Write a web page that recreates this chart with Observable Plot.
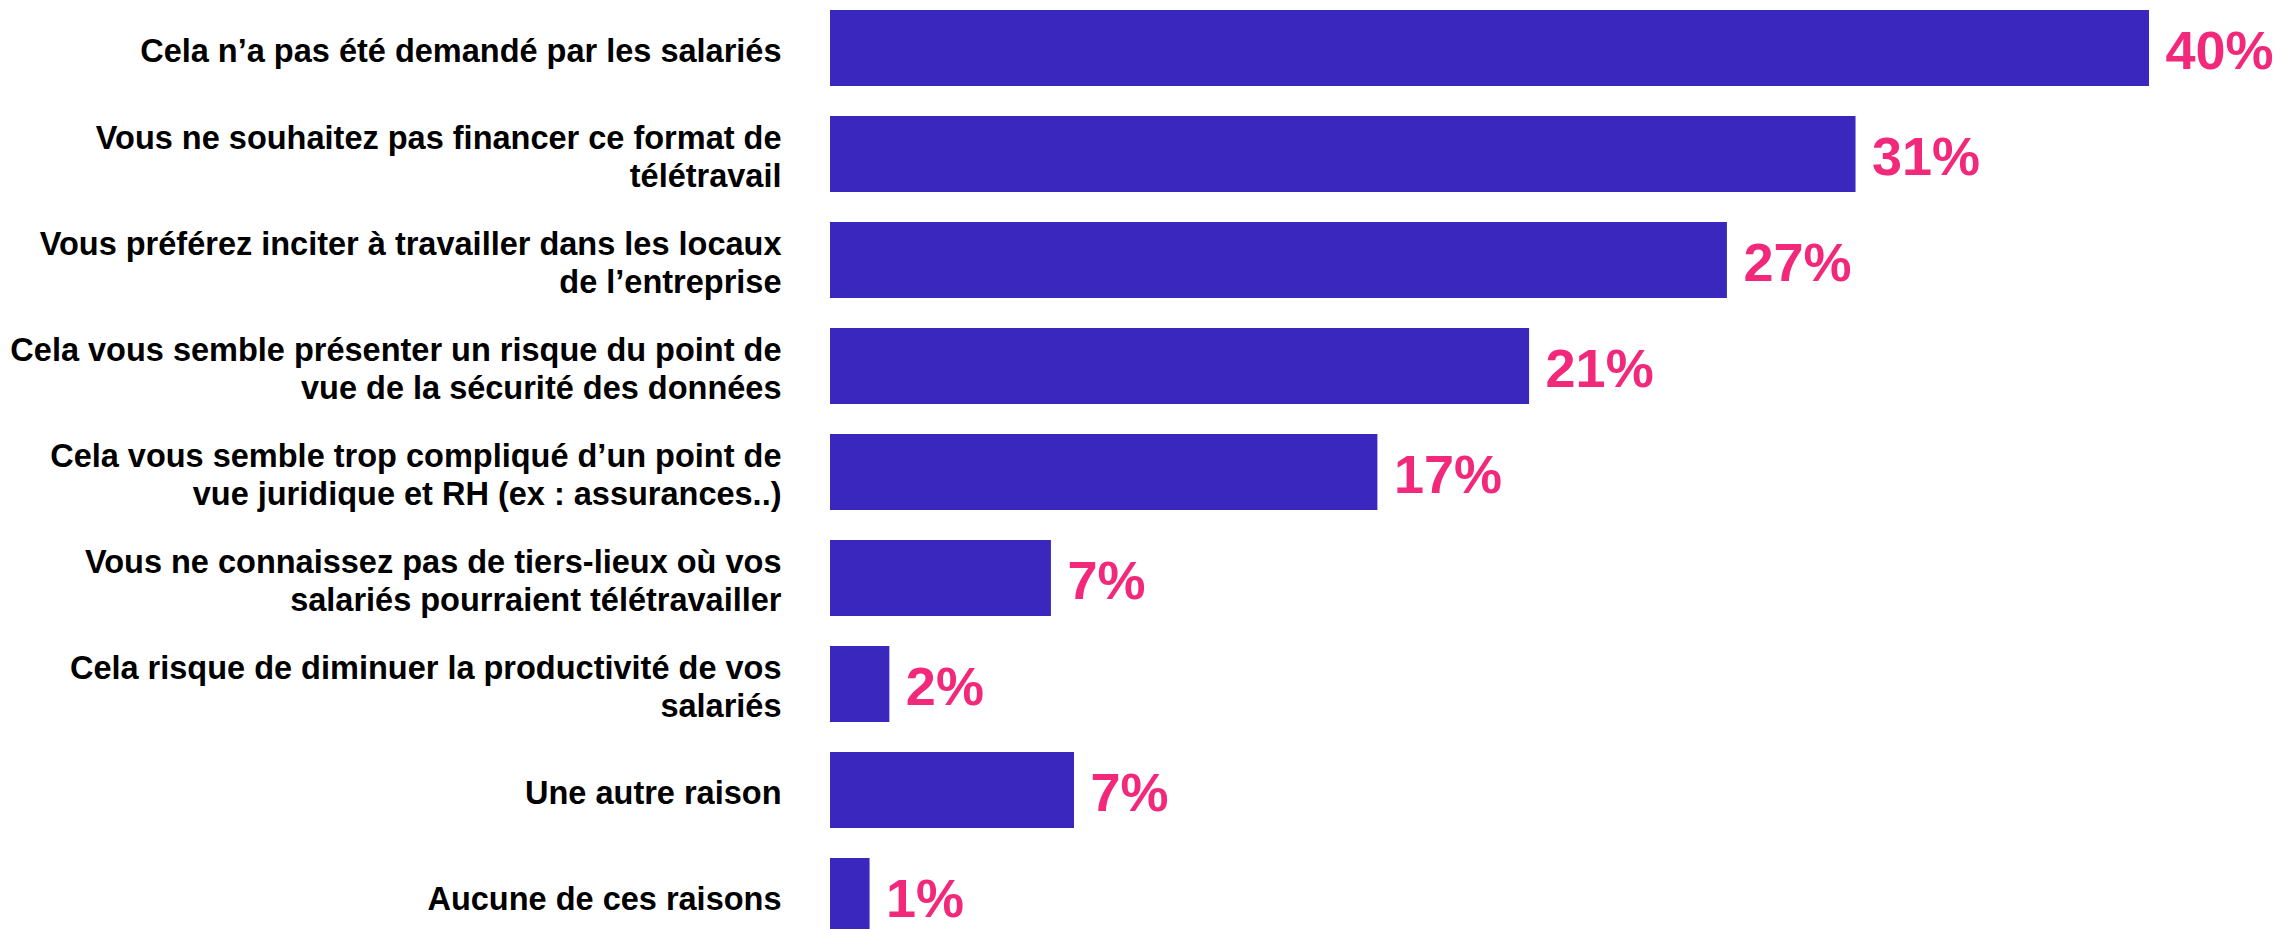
<!DOCTYPE html>
<html>
<head>
<meta charset="utf-8">
<script src="https://cdn.jsdelivr.net/npm/d3@7"></script>
<script src="https://cdn.jsdelivr.net/npm/@observablehq/plot@0.6"></script>
<style>
  html, body { margin: 0; padding: 0; background: #fff; overflow: hidden; }
</style>
</head>
<body>
<div id="chart"></div>
<script>
const categories = [
  "Cela n’a pas été demandé par les salariés",
  "Vous ne souhaitez pas financer ce format de\ntélétravail",
  "Vous préférez inciter à travailler dans les locaux\nde l’entreprise",
  "Cela vous semble présenter un risque du point de\nvue de la sécurité des données",
  "Cela vous semble trop compliqué d’un point de\nvue juridique et RH (ex : assurances..)",
  "Vous ne connaissez pas de tiers-lieux où vos\nsalariés pourraient télétravailler",
  "Cela risque de diminuer la productivité de vos\nsalariés",
  "Une autre raison",
  "Aucune de ces raisons"
];
const values = [40, 31.1, 27.2, 21.2, 16.6, 6.7, 1.8, 7.4, 1.2];
const valueLabels = ["40%", "31%", "27%", "21%", "17%", "7%", "2%", "7%", "1%"];

const data = categories.map((c, i) => ({category: c, value: values[i], label: valueLabels[i]}));

const chart = Plot.plot({
  width: 2280,
  height: 929,
  marginLeft: 830,
  marginRight: 131,
  marginTop: 0,
  marginBottom: 0,
  style: {background: "#fff", fontFamily: "'Liberation Sans', Arial, sans-serif"},
  x: {domain: [0, 40], axis: null},
  y: {domain: categories, range: [-20, 964], padding: 0.283, axis: null},
  marks: [
    Plot.barX(data, {x: "value", y: "category", fill: "#3A27BE"}),
    Plot.text(data, {
      x: "value", y: "category", text: "label",
      textAnchor: "start", dx: 16, dy: 3,
      fill: "#F2297A", fontSize: 54, fontWeight: "bold"
    }),
    Plot.text(data, {
      x: () => 0, y: "category", text: "category",
      textAnchor: "end", lineAnchor: "middle", dx: -49, dy: 1,
      lineHeight: 1.17,
      fill: "#000", fontSize: 32.5, fontWeight: "bold"
    })
  ]
});
document.getElementById("chart").appendChild(chart);
</script>
</body>
</html>
